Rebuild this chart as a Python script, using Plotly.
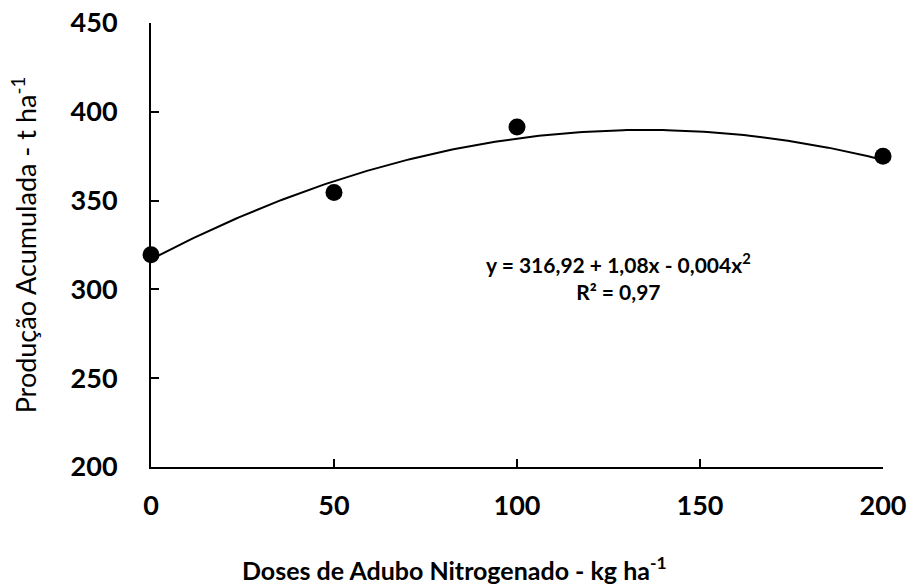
import numpy as np
import plotly.graph_objects as go

doses = [0, 50, 100, 200]
producao = [319.5, 354.5, 391.5, 375.0]
coef = [316.92, 1.08, -0.004]  # fitted trendline shown on chart
x_ticks = [0, 50, 100, 150, 200]
y_ticks = [200, 250, 300, 350, 400, 450]

xs = np.linspace(0, 200, 201)
ys = coef[0] + coef[1] * xs + coef[2] * xs ** 2

FONT = "Lato"

fig = go.Figure()
fig.add_trace(go.Scatter(x=xs, y=ys, mode="lines",
                         line=dict(color="black", width=2),
                         hoverinfo="skip", showlegend=False))
fig.add_trace(go.Scatter(x=doses, y=producao, mode="markers",
                         marker=dict(color="black", size=17),
                         cliponaxis=False, showlegend=False))

fig.add_annotation(x=0.638, y=0.43, xref="paper", yref="paper",
                   text="<b>y = 316,92 + 1,08x - 0,004x<sup>2</sup></b><br><b>R² = 0,97</b>",
                   showarrow=False, align="center",
                   font=dict(family=FONT, size=21, color="black"))

# x-axis title (offset left as in the reference)
fig.add_annotation(x=0.415, y=-0.228, xref="paper", yref="paper",
                   xanchor="center", yanchor="middle",
                   text="<b>Doses de Adubo Nitrogenado - kg ha<sup>-1</sup></b>",
                   showarrow=False,
                   font=dict(family=FONT, size=25, color="black"))

fig.update_layout(
    width=911, height=585,
    margin=dict(l=151, r=28, t=23, b=118),
    paper_bgcolor="white", plot_bgcolor="white",
    font=dict(family=FONT, color="black"),
)
fig.update_xaxes(range=[0, 200], tickvals=x_ticks, ticks="inside", ticklen=8,
                 tickwidth=2, tickcolor="black", automargin=False,
                 showline=True, linecolor="black", linewidth=2,
                 showgrid=False, zeroline=False, ticklabelstandoff=14,
                 tickfont=dict(family=FONT, size=27, color="black", weight="bold"))
fig.update_yaxes(range=[200, 450], tickvals=y_ticks, ticks="inside", ticklen=8,
                 tickwidth=2, tickcolor="black", automargin=False,
                 showline=True, linecolor="black", linewidth=2,
                 showgrid=False, zeroline=False, ticklabelstandoff=26,
                 tickfont=dict(family=FONT, size=27, color="black", weight="bold"),
                 title=dict(text="Produção Acumulada - t ha<sup>-1</sup>",
                            font=dict(family=FONT, size=27, color="black"), standoff=26))

fig.write_html("out.html")
